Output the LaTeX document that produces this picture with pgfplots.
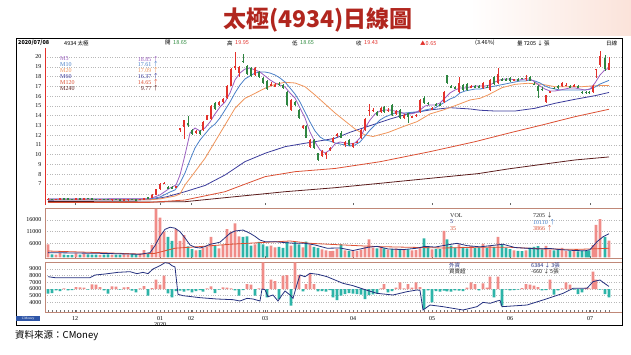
\documentclass[border=0pt]{standalone}
\usepackage{fontspec}
\setmainfont{Liberation Serif}
\newfontfamily\cjk{Noto Sans CJK TC}
\usepackage{pgfplots}
\pgfplotsset{compat=1.18}
\usepackage{pgfplotstable}

\definecolor{cUp}{HTML}{E3312B}
\definecolor{cDn}{HTML}{2E8540}
\definecolor{vUp}{HTML}{F08C88}
\definecolor{vDn}{HTML}{2DB4A8}
\definecolor{mA}{HTML}{9B5FC0}
\definecolor{mB}{HTML}{4A80C8}
\definecolor{mC}{HTML}{F0945A}
\definecolor{mD}{HTML}{3C3C9C}
\definecolor{mE}{HTML}{DC5034}
\definecolor{mF}{HTML}{5C1C1C}
\definecolor{navy}{HTML}{25317F}
\definecolor{frameC}{HTML}{C08878}
\definecolor{titleC}{HTML}{B1261E}
\definecolor{gridC}{HTML}{B8B8B8}
\definecolor{bgPink}{HTML}{FBE3DA}
\definecolor{logoBlue}{HTML}{2F56A8}
\definecolor{valGreen}{HTML}{2E8B3E}

\pgfplotstableread{
x o h l c v f
48 5.42 5.55 5.40 5.47 5600 -700
52 5.47 5.50 5.40 5.43 1300 -600
56 5.43 5.48 5.38 5.45 1200 -200
60 5.45 5.56 5.42 5.53 1800 -300
64 5.53 5.56 5.46 5.48 1100 100
68 5.48 5.52 5.44 5.46 900 -200
72 5.46 5.50 5.42 5.44 1000 -150
76 5.44 5.56 5.42 5.53 1700 300
80 5.53 5.55 5.45 5.47 1200 250
84 5.47 5.58 5.45 5.55 1400 200
88 5.55 5.58 5.48 5.50 1300 -100
92 5.50 5.52 5.45 5.46 1100 700
96 5.46 5.50 5.42 5.44 1200 650
100 5.44 5.48 5.40 5.46 1000 300
104 5.46 5.48 5.42 5.43 1100 -200
108 5.43 5.46 5.38 5.40 1300 -700
112 5.40 5.45 5.36 5.43 1000 400
116 5.43 5.45 5.38 5.40 1200 350
120 5.40 5.43 5.36 5.38 1100 -100
124 5.38 5.43 5.35 5.41 1300 250
128 5.41 5.45 5.37 5.43 1200 300
132 5.43 5.46 5.38 5.41 1500 -250
136 5.41 5.45 5.38 5.39 1300 -500
140 5.39 5.50 5.38 5.48 1600 100
144 5.48 5.58 5.45 5.55 3100 450
148 5.60 5.64 5.50 5.55 1400 -1000
152 5.58 5.96 5.56 5.90 5300 150
156 5.90 6.50 5.85 6.45 20700 1400
160 6.45 7.10 6.40 7.05 17000 650
164 7.05 7.20 6.95 7.12 11000 2000
168 6.66 6.75 6.55 6.60 8800 -650
172 6.70 6.75 6.55 6.58 7000 -1250
176 6.60 6.82 6.55 6.76 12100 -300
180 12.50 12.76 12.30 12.74 7000 -250
184 12.85 13.60 11.60 13.50 9500 -400
188 13.20 14.00 12.80 13.10 4700 -200
192 12.50 12.60 12.00 12.10 3500 -500
196 12.30 12.50 12.10 12.35 3000 -300
200 12.40 12.50 12.00 12.10 3100 -150
203 12.50 13.45 12.40 13.35 4000 -400
207 13.55 14.10 13.50 14.05 4500 100
211 13.65 15.05 13.60 15.00 8800 400
215 15.30 15.40 14.60 14.70 4900 -600
219 15.10 15.45 15.00 15.40 3800 -100
223 15.40 15.80 15.30 15.70 5200 250
227 15.80 17.10 15.70 17.05 12100 200
231 17.05 18.90 17.00 18.80 11000 100
235 18.90 20.50 18.70 19.10 14600 -200
239 18.40 19.10 18.00 19.00 9000 -1000
243 19.60 20.30 19.40 19.55 8800 -150
247 19.10 19.20 18.20 18.30 9000 750
251 18.90 19.00 18.00 18.10 5000 650
255 18.20 19.00 18.10 18.90 5500 -1000
259 18.50 18.60 17.90 18.00 6600 100
263 17.90 18.00 17.20 17.30 5600 4000
267 17.50 17.60 16.60 16.70 4700 -1250
271 17.15 17.40 17.00 17.20 5000 1400
275 17.05 17.30 16.90 17.10 4300 1200
279 17.25 17.40 17.00 17.20 4500 -1500
283 17.10 17.20 16.70 16.80 4100 2000
287 16.45 16.50 15.00 15.10 6500 2100
291 14.60 15.70 14.50 15.60 5000 -2500
295 15.40 15.50 15.00 15.10 6500 4000
299 14.60 14.70 13.70 13.80 5500 2100
303 12.70 13.00 12.60 12.90 4300 -350
306 12.90 13.00 11.70 11.75 6700 750
310 10.80 11.60 10.70 11.50 5300 2350
314 11.50 11.60 10.60 10.70 4500 750
318 10.15 10.20 9.40 9.45 4000 -350
322 9.90 10.50 9.80 10.40 3400 -300
326 10.05 10.30 9.60 10.10 3000 -400
330 10.50 10.80 10.40 10.70 2600 -150
333 11.30 11.80 11.20 11.70 2800 -1250
337 11.90 12.20 11.80 12.10 3600 -1650
341 12.20 12.40 11.70 11.75 5600 -1000
345 11.00 11.40 10.80 11.30 3000 -750
349 11.50 11.60 10.90 11.00 2800 -600
353 10.80 11.20 10.70 11.15 2600 -700
357 11.25 11.40 11.20 11.30 2800 -750
361 11.70 12.60 11.60 12.50 3300 -850
365 12.50 13.80 12.40 13.70 4600 -1500
369 14.55 15.20 14.00 14.60 7700 -900
373 14.55 14.80 14.40 14.60 4200 -800
377 14.40 14.50 14.00 14.05 3800 -700
381 14.40 14.85 14.30 14.75 4600 100
384 14.90 15.00 14.30 14.40 3800 750
388 14.55 14.80 14.40 14.60 3300 -500
392 15.10 15.20 14.00 14.10 3500 -300
396 14.20 14.60 14.10 14.50 3800 200
400 14.60 14.70 13.70 13.80 3600 1000
404 13.80 14.20 13.70 14.10 3200 100
408 14.25 14.30 13.20 13.90 3400 750
412 13.85 14.00 13.80 13.90 3000 200
416 14.00 14.20 13.90 14.05 3100 1000
420 14.40 15.70 14.30 15.60 4300 300
424 15.80 16.00 15.20 15.25 8100 -3000
428 15.30 15.40 15.10 15.25 4500 -200
432 14.70 14.90 14.60 14.75 3400 -2000
436 15.15 15.30 15.00 15.10 3600 -300
440 15.15 15.30 15.00 15.10 3500 -400
444 15.40 16.50 15.30 16.45 11300 -250
447 18.15 18.20 17.20 17.30 7700 -350
451 17.00 17.10 16.80 16.95 5000 -400
455 16.90 17.00 16.70 16.85 4200 -200
459 16.40 18.00 16.30 17.30 5500 -250
463 17.10 17.20 16.50 16.60 4500 -300
467 17.20 17.30 16.50 16.60 3800 200
471 16.95 17.10 16.80 17.00 4800 1000
475 17.00 17.15 16.90 16.95 4000 750
479 17.00 17.10 16.80 16.90 4300 -200
483 16.80 17.40 16.70 17.30 5800 850
487 16.95 17.10 16.80 16.90 4000 200
490 16.60 17.70 16.50 17.65 5000 1850
494 18.00 18.10 17.10 17.20 4500 -1250
498 17.30 18.85 17.20 18.30 8800 1850
502 17.70 17.80 17.50 17.60 5500 -2500
506 17.70 17.80 17.50 17.60 4000 -100
510 17.90 18.00 17.40 17.50 3500 -200
514 17.60 17.75 17.55 17.70 3000 -150
518 17.70 17.80 17.55 17.65 2800 -100
522 17.85 17.90 17.70 17.80 2600 150
526 17.80 18.20 17.50 17.85 3000 750
530 18.00 18.10 17.50 17.55 4200 650
534 17.25 17.40 17.10 17.20 4500 500
538 17.05 17.10 15.85 16.50 4800 300
542 16.75 16.90 16.50 16.60 3400 -200
546 15.35 16.15 15.30 16.10 4900 -150
550 16.40 16.50 16.30 16.45 3200 1400
554 16.85 16.95 16.70 16.80 3000 -850
558 17.00 17.10 16.70 16.80 3300 -200
562 17.00 17.40 16.90 17.30 4000 100
566 17.10 17.30 17.00 17.15 2800 1000
570 17.00 17.10 16.90 16.95 2600 650
574 17.05 17.20 17.00 17.10 2700 -100
578 17.00 17.10 16.90 16.95 2500 -750
582 16.40 16.50 16.20 16.35 2800 -500
586 16.40 16.50 16.20 16.35 2600 200
589 16.40 16.50 16.20 16.35 3000 100
593 16.40 17.10 16.35 17.05 5200 2600
596 18.70 18.80 17.80 18.78 13900 1400
600 19.20 20.60 19.00 20.10 16400 -100
605 19.90 20.20 18.60 18.78 8800 -750
609 18.65 19.95 18.65 19.43 7205 -1250
}\kdata

\pgfplotstableread{
x y
48 5.47
100 5.47
150 5.50
160 5.88
170 6.59
176 6.90
180 7.92
185 9.97
190 12.22
195 12.73
200 12.43
205 12.73
210 13.35
215 14.17
220 14.88
225 15.39
230 16.32
235 17.65
240 18.36
245 18.77
250 18.87
255 18.67
260 18.46
265 18.06
270 17.65
275 17.34
280 17.13
285 16.93
290 16.32
295 15.80
300 14.78
305 13.76
310 12.32
315 11.30
320 10.48
325 10.17
330 10.48
335 11.10
340 11.30
345 11.20
350 11.10
355 11.20
360 11.71
365 12.73
370 13.55
375 14.17
380 14.47
385 14.57
390 14.57
395 14.47
400 14.37
405 14.17
410 14.17
415 14.27
420 14.57
425 14.98
430 15.09
435 15.09
440 15.29
445 15.80
450 16.32
455 16.62
460 16.83
465 16.83
470 16.93
475 17.03
480 17.03
485 17.03
490 17.13
495 17.44
500 17.65
505 17.75
510 17.75
515 17.65
520 17.65
525 17.75
530 17.75
535 17.44
540 17.03
545 16.72
550 16.52
555 16.52
560 16.62
565 16.72
570 16.83
575 16.83
580 16.72
585 16.62
590 16.72
595 17.34
600 18.16
605 18.70
609 18.85
}\maA

\pgfplotstableread{
x y
48 5.47
150 5.47
160 5.67
170 6.18
175 6.39
180 7.10
185 8.13
190 9.46
195 10.69
200 11.50
205 12.12
210 12.73
215 13.14
220 13.76
225 14.57
230 15.39
235 16.32
240 17.13
245 17.75
250 18.06
255 18.36
260 18.46
265 18.46
270 18.36
275 18.16
280 17.85
285 17.44
290 16.83
295 16.21
300 15.39
305 14.37
310 13.35
315 12.43
320 11.81
325 11.50
330 11.40
335 11.20
340 11.10
345 10.99
350 10.89
355 10.99
360 11.30
365 11.91
370 12.53
375 13.04
380 13.55
385 13.86
390 14.06
395 14.27
405 14.27
415 14.37
420 14.37
425 14.57
430 14.68
435 14.78
440 15.09
445 15.39
450 15.70
455 15.90
460 16.32
465 16.52
470 16.62
475 16.72
480 16.72
485 16.83
490 16.93
495 17.03
500 17.13
505 17.23
510 17.34
515 17.44
520 17.54
525 17.54
530 17.65
535 17.54
540 17.34
545 17.03
550 16.83
555 16.72
560 16.62
585 16.62
590 16.72
595 16.93
600 17.23
605 17.44
609 17.61
}\maB

\pgfplotstableread{
x y
48 5.40
150 5.40
160 5.47
175 5.77
180 5.98
185 6.90
195 8.26
205 9.63
215 11.33
225 13.04
235 14.75
245 15.77
255 16.28
265 16.80
275 17.20
285 17.41
295 17.34
305 16.96
315 16.11
325 15.19
335 14.27
345 13.45
355 12.63
365 12.02
373 11.86
388 12.27
403 12.87
417 13.38
430 14.17
443 14.57
457 15.09
470 15.60
480 15.77
488 16.11
502 16.86
515 17.20
528 17.31
542 17.20
555 16.96
568 16.96
582 16.96
595 17.06
609 17.09
}\maC

\pgfplotstableread{
x y
48 5.35
150 5.38
167 5.70
185 6.21
205 6.85
225 7.92
245 9.29
265 10.14
285 10.82
305 11.17
325 11.50
335 11.68
350 12.29
370 12.97
390 13.65
410 14.24
430 14.58
450 14.81
470 14.68
480 14.55
495 14.47
515 14.47
535 14.75
555 15.26
575 15.67
595 16.04
609 16.37
}\maD

\pgfplotstableread{
x y
48 5.10
150 5.12
185 5.36
225 6.21
235 6.60
265 7.75
295 8.26
335 8.59
380 9.28
430 10.31
475 11.33
508 12.19
542 13.04
575 13.89
609 14.65
}\maE

\pgfplotstableread{
x y
48 5.22
150 5.16
185 5.19
235 5.70
285 6.21
335 6.62
380 7.07
430 7.58
478 8.06
508 8.54
542 9.01
575 9.46
609 9.77
}\maF

\pgfplotstableread{
x y
48 2000
100 1700
140 1300
150 2000
155 5000
160 9000
165 12000
170 12900
175 12500
180 11000
185 8300
190 5300
195 4300
200 4000
205 4600
210 5600
215 6000
220 6500
225 8400
230 10300
235 11300
243 11700
250 10300
255 9000
260 7400
265 6700
275 6700
285 6300
295 6000
305 6000
315 5300
327 3900
340 4000
353 2900
368 4300
377 4700
388 3600
403 3300
417 3900
425 4700
435 4400
447 5300
457 6000
467 5000
480 4500
497 5300
503 5600
515 4200
537 3600
550 3800
560 3300
575 2900
585 2800
590 3300
597 6700
603 8800
609 10110
}\volA

\pgfplotstableread{
x y
48 2700
100 2000
140 1400
155 1700
175 3900
200 4600
230 5600
260 6300
290 7000
310 6000
343 5300
377 4600
410 4300
443 4000
477 4300
510 4300
543 3600
577 3400
609 3866
}\volB

\pgfplotstableread{
x y
48 7850
55 7700
90 7700
95 8100
105 8250
118 8500
130 8600
137 8300
143 8500
148 8300
153 9000
160 9500
165 9950
169 9850
172 9500
175 9300
178 5200
183 5000
200 4700
217 4500
233 4400
240 4200
247 4600
253 4500
260 4200
262 6000
265 5900
268 4850
273 5100
278 4200
282 5100
285 5700
290 5100
293 4600
297 6700
300 8100
305 7850
310 8350
318 8200
327 7850
343 6850
353 6500
365 5900
377 5350
393 5100
407 5600
417 5850
420 5800
423 2850
430 3600
443 3350
463 2850
470 3100
477 3350
483 4000
490 3850
497 4200
500 4300
502 3350
527 3600
543 4350
563 5350
573 6100
587 6100
593 7100
600 7350
603 7000
609 6384
}\forA

\pgfplotsset{
  panel/.style={anchor=south west, scale only axis, width=577pt,
    xmin=45, xmax=622, tick pos=left,
    scaled y ticks=false, scaled x ticks=false,
    tick label style={font=\fontsize{6}{6}\selectfont},
    /pgf/number format/assume math mode=true,
    /pgf/number format/1000 sep={},
    ytick style={draw=none},
    ymajorgrids, grid style={gridC, dotted, line width=0.45pt},
    xtick={75,160,191,265,353,432,510,590},
    xtick style={draw=black!60, line width=0.4pt},
    major tick length=2.5pt},
  wick/.style={forget plot, draw=none, mark=none,
    error bars/y dir=both, error bars/y explicit, error bars/error mark=none,
    error bars/error bar style={draw=#1, line width=0.55pt}},
  body/.style={forget plot, draw=none, mark=none,
    error bars/y dir=both, error bars/y explicit, error bars/error mark=none,
    error bars/error bar style={draw=#1, line width=2.7pt}},
}

\begin{document}
\begin{tikzpicture}[x=1pt,y=1pt]
\useasboundingbox (0,0) rectangle (631,354);
\fill[white] (0,0) rectangle (631,354);
\shade[left color=white, right color=bgPink] (470,318) rectangle (631,354);

\node[text=titleC, font=\cjk\bfseries\fontsize{23}{23}\selectfont, inner sep=0pt] at (318,334) {太極(4934)日線圖};

% ---------- price panel ----------
\begin{axis}[panel, at={(45pt,149pt)}, height=157pt,
  ymin=4.85, ymax=20.92, axis line style={draw=none},
  ytick={7,...,20}, extra y ticks={6}, extra y tick labels={},
  extra y tick style={grid=major, tick style={draw=none}},
  xticklabels={}]
\addplot[mF, line width=0.8pt, forget plot] table {\maF};
\addplot[mE, line width=0.8pt, forget plot] table {\maE};
\addplot[mD, line width=0.8pt, forget plot] table {\maD};
\addplot[mC, line width=0.8pt, forget plot] table {\maC};
\addplot[mB, line width=0.8pt, forget plot] table {\maB};
\addplot[mA, line width=0.8pt, forget plot] table {\maA};
\addplot[wick=cUp, restrict expr to domain={\thisrow{c}-\thisrow{o}}{0:100}]
  table[x=x, y expr={(\thisrow{h}+\thisrow{l})/2}, y error expr={(\thisrow{h}-\thisrow{l})/2}] {\kdata};
\addplot[wick=cDn, restrict expr to domain={\thisrow{c}-\thisrow{o}}{-100:-0.0001}]
  table[x=x, y expr={(\thisrow{h}+\thisrow{l})/2}, y error expr={(\thisrow{h}-\thisrow{l})/2}] {\kdata};
\addplot[body=cUp, restrict expr to domain={\thisrow{c}-\thisrow{o}}{0:100}]
  table[x=x, y expr={(\thisrow{o}+\thisrow{c})/2}, y error expr={max(abs(\thisrow{c}-\thisrow{o})/2,0.05)}] {\kdata};
\addplot[body=cDn, restrict expr to domain={\thisrow{c}-\thisrow{o}}{-100:-0.0001}]
  table[x=x, y expr={(\thisrow{o}+\thisrow{c})/2}, y error expr={max(abs(\thisrow{c}-\thisrow{o})/2,0.05)}] {\kdata};
\draw[cUp, line width=0.8pt] (rel axis cs:0,0) -- (rel axis cs:0,1);
\end{axis}

% ---------- volume panel ----------
\begin{axis}[panel, at={(45pt,96pt)}, height=50pt,
  ymin=-300, ymax=21160, axis line style={frameC, line width=0.6pt},
  ytick={6000,11000,16000}, xticklabels={}]
\addplot[ybar, bar width=2.7pt, bar shift=0pt, fill=vUp, draw=none, forget plot,
  restrict expr to domain={\thisrow{c}-\thisrow{o}}{0:100}] table[x=x, y=v] {\kdata};
\addplot[ybar, bar width=2.7pt, bar shift=0pt, fill=vDn, draw=none, forget plot,
  restrict expr to domain={\thisrow{c}-\thisrow{o}}{-100:-0.0001}] table[x=x, y=v] {\kdata};
\addplot[mE, line width=0.8pt, forget plot] table {\volB};
\addplot[navy, line width=0.8pt, forget plot] table {\volA};
\end{axis}

% ---------- foreign panel ----------
\begin{axis}[panel, at={(45pt,42pt)}, height=50pt,
  ymin=2550, ymax=10050, axis line style={frameC, line width=0.6pt},
  ytick={4000,5000,6000,7000,8000,9000},
  xticklabels={12,{01\\2020},02,03,04,05,06,07},
  xticklabel style={align=center, font=\fontsize{6}{5.5}\selectfont, yshift=-1pt}]
\end{axis}
\begin{axis}[anchor=south west, scale only axis, width=577pt, at={(45pt,42pt)}, height=50pt,
  xmin=45, xmax=622, ymin=-3450, ymax=4050, axis line style={draw=none},
  scaled y ticks=false, scaled x ticks=false,
  ytick=\empty, xtick=data, xticklabels={}, tick pos=left,
  xtick style={draw=black!55, line width=0.3pt}, major tick length=1.6pt]
\addplot[draw=none, mark=none, forget plot] table[x=x, y expr=0] {\kdata};
\addplot[ybar, bar width=2.7pt, bar shift=0pt, fill=vUp, draw=none, forget plot,
  restrict expr to domain={\thisrow{f}}{0:10000}] table[x=x, y=f] {\kdata};
\addplot[ybar, bar width=2.7pt, bar shift=0pt, fill=vDn, draw=none, forget plot,
  restrict expr to domain={\thisrow{f}}{-10000:-1}] table[x=x, y=f] {\kdata};
\end{axis}
\begin{axis}[anchor=south west, scale only axis, width=577pt, at={(45pt,42pt)}, height=50pt,
  xmin=45, xmax=622, ymin=2550, ymax=10050, axis lines=none]
\addplot[navy, line width=0.8pt, forget plot] table {\forA};
\end{axis}

% ---------- header ----------
\begin{scope}[every node/.style={anchor=west, inner sep=0pt, font=\cjk\fontsize{5.5}{6}\selectfont}]
\node at (18,311) {\bfseries 2020/07/08};
\node at (64,311) {4934 太極};
\node at (165,311) {開};
\node[text=valGreen] at (173,311) {18.65};
\node at (227,311) {高};
\node[text=cUp] at (235,311) {19.95};
\node at (292,311) {低};
\node[text=valGreen] at (300,311) {18.65};
\node at (356,311) {收};
\node[text=cUp] at (364,311) {19.43};
\node[text=cUp] at (420,311) {▲0.65};
\node at (475,311) {(3.46\%)};
\node at (517,311) {量 7205 ↓ 張};
\node at (606,311) {日線};
\end{scope}

% ---------- MA legend ----------
\begin{scope}[every node/.style={anchor=west, inner sep=0pt, font=\fontsize{6}{6}\selectfont}]
\node[text=mA] at (60,295) {M5};
\node[text=mB] at (60,289.3) {M10};
\node[text=mC] at (60,283.6) {M20};
\node[text=mD] at (60,277.6) {M60};
\node[text=mE] at (60,271.3) {M120};
\node[text=mF] at (60,265.3) {M240};
\end{scope}
\begin{scope}[every node/.style={anchor=east, inner sep=0pt, font=\fontsize{6}{6}\selectfont}]
\node[text=mA] at (159,295) {18.85 {\cjk ↑}};
\node[text=mB] at (159,289.3) {17.61 {\cjk ↑}};
\node[text=mC] at (159,283.6) {17.09 {\cjk ↑}};
\node[text=mD] at (159,277.6) {16.37 {\cjk ↑}};
\node[text=mE] at (159,271.3) {14.65 {\cjk ↑}};
\node[text=mF] at (159,265.3) {9.77 {\cjk ↑}};
\end{scope}

% ---------- volume / foreign legend ----------
\begin{scope}[every node/.style={anchor=west, inner sep=0pt, font=\fontsize{6}{6}\selectfont}]
\node[text=black!85] at (450,138.3) {VOL};
\node[text=navy] at (450,132) {5};
\node[text=mE] at (450,125.8) {35};
\node[text=black!85] at (533,138.3) {7205 {\cjk ↓}};
\node[text=mB] at (533,132) {10110 {\cjk ↑}};
\node[text=mE] at (533,125.8) {3866 {\cjk ↑}};
\node[text=navy, font=\cjk\fontsize{5.5}{6}\selectfont] at (449,89) {外資};
\node[text=black!85, font=\cjk\fontsize{5.5}{6}\selectfont] at (449,82.5) {買賣超};
\node[text=navy, font=\cjk\fontsize{5.5}{6}\selectfont] at (531,89) {6384 ↓ 3張};
\node[text=black!85, font=\cjk\fontsize{5.5}{6}\selectfont] at (531,82.5) {-660 ↓ 5張};
\end{scope}

% ---------- frame, logo, footer ----------
\draw[black, line width=0.8pt] (16,29) rectangle (622.5,316);
\node[fill=logoBlue, text=white, font=\fontsize{3.6}{3.6}\selectfont, inner sep=0.5pt,
  minimum width=24pt, minimum height=5pt, anchor=west] at (16,35.5) {CMoney};
\node[anchor=west, inner sep=0pt, font=\cjk\fontsize{9.5}{10}\selectfont] at (15,18) {資料來源：CMoney};
\end{tikzpicture}
\end{document}
